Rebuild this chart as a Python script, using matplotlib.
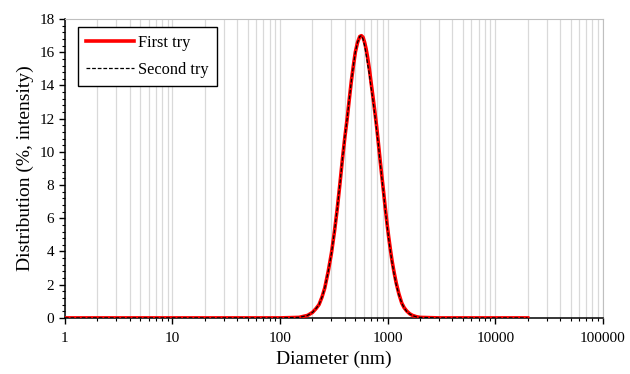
import matplotlib
matplotlib.use("Agg")
from matplotlib import pyplot as plt
from matplotlib.ticker import LogLocator, MultipleLocator, NullFormatter

plt.rcParams['font.family'] = ['Liberation Serif', 'DejaVu Serif']

# size distribution (diameter in nm, % intensity)
diameter = [1, 10, 100, 150, 180, 200, 215, 230, 245, 260, 280, 300, 320, 340, 360,
            380, 400, 420, 440, 460, 480, 500, 525, 550, 570, 590, 610, 630, 650,
            675, 700, 730, 760, 790, 820, 850, 880, 915, 950, 985, 1020, 1060,
            1100, 1150, 1200, 1270, 1350, 1420, 1500, 1600, 1700, 1850, 2000,
            3000, 5000, 10000, 20000]
first_try = [0, 0, 0, 0.03, 0.15, 0.33, 0.55, 0.8, 1.25, 1.8, 2.8, 3.9, 5.2, 6.6, 8.1,
             9.6, 10.9, 12.0, 13.2, 14.3, 15.2, 16.0, 16.6, 16.95, 17.0, 16.9, 16.6,
             16.2, 15.7, 15.0, 14.2, 13.3, 12.4, 11.5, 10.5, 9.5, 8.6, 7.6, 6.6, 5.7,
             4.9, 4.1, 3.4, 2.7, 2.1, 1.45, 0.9, 0.62, 0.42, 0.25, 0.15, 0.07, 0.03,
             0, 0, 0, 0]
second_try = [0, 0, 0, 0.03, 0.15, 0.33, 0.55, 0.8, 1.25, 1.8, 2.8, 3.9, 5.2, 6.6, 8.1,
              9.6, 10.9, 12.0, 13.2, 14.3, 15.2, 16.0, 16.6, 16.95, 17.0, 16.8, 16.4,
              15.9, 15.3, 14.7, 13.9, 13.1, 12.2, 11.3, 10.4, 9.4, 8.5, 7.5, 6.5, 5.6,
              4.8, 4.0, 3.3, 2.6, 2.0, 1.4, 0.9, 0.6, 0.4, 0.24, 0.14, 0.06, 0.03,
              0, 0, 0, 0]

fig = plt.figure(figsize=(6.3, 3.74), dpi=100)
ax = fig.add_axes([0.103, 0.150, 0.854, 0.799])

ax.plot(diameter, first_try, color="#ff0000", linewidth=2.6, label="First try", zorder=3)
ax.plot(diameter, second_try, color="black", linewidth=0.9, linestyle=(0, (3, 1.5)),
        label="Second try", zorder=4)

ax.set_xscale("log")
ax.set_xlim(1, 100000)
ax.set_ylim(0, 18)

ax.xaxis.set_minor_locator(LogLocator(base=10, subs=range(2, 10), numticks=20))
ax.xaxis.set_minor_formatter(NullFormatter())
ax.set_xticks([1, 10, 100, 1000, 10000, 100000])
ax.set_xticklabels(["1", "10", "100", "1000", "10000", "100000"])
ax.yaxis.set_major_locator(MultipleLocator(2))
ax.yaxis.set_minor_locator(MultipleLocator(0.4))

ax.grid(True, which="both", axis="x", color="#d9d9d9", linewidth=0.9)
ax.set_axisbelow(True)

ax.tick_params(axis="both", which="major", direction="out", length=4, width=1,
               labelsize=11, color="black")
ax.tick_params(axis="both", which="minor", direction="out", length=2.5, width=0.8)
ax.tick_params(axis="x", pad=6)

ax.spines["top"].set_color("#bfbfbf")
ax.spines["right"].set_color("#bfbfbf")
ax.spines["left"].set_linewidth(1.1)
ax.spines["bottom"].set_linewidth(1.1)

ax.set_xlabel("Diameter (nm)", fontsize=14)
ax.set_ylabel("Distribution (%, intensity)", fontsize=14)

leg = ax.legend(loc="upper left", bbox_to_anchor=(0.024, 0.975), fontsize=11.8,
                frameon=True, fancybox=False, edgecolor="black", framealpha=1,
                handlelength=2.9, handletextpad=0.3, borderpad=0.5,
                labelspacing=0.7, borderaxespad=0)
leg.get_frame().set_linewidth(1.0)

fig.savefig("out.png", dpi=100)
